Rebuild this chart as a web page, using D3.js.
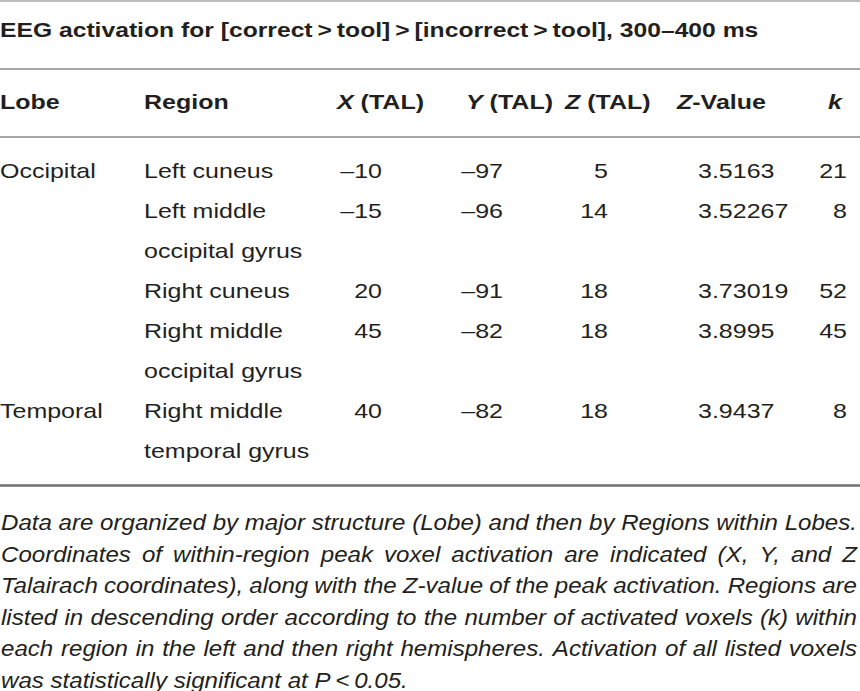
<!DOCTYPE html>
<html>
<head>
<meta charset="utf-8">
<script src="https://cdn.jsdelivr.net/npm/d3@7"></script>
<style>
  html, body { margin: 0; padding: 0; background: #fff; }
  svg { display: block; }
</style>
</head>
<body>
<svg id="chart" width="860" height="691"></svg>
<script>
// ---------- data ----------
const title = "EEG activation for [correct\u2009>\u2009tool]\u2009>\u2009[incorrect\u2009>\u2009tool], 300\u2013400 ms";
const headers = [
  [{t: "Lobe"}],
  [{t: "Region"}],
  [{t: "X", i: true}, {t: " (TAL)"}],
  [{t: "Y", i: true}, {t: " (TAL)"}],
  [{t: "Z", i: true}, {t: " (TAL)"}],
  [{t: "Z", i: true}, {t: "-Value"}],
  [{t: "k", i: true}]
];
const lobes   = ["Occipital", "", "", "", "Temporal"];
const regions = [["Left cuneus"], ["Left middle", "occipital gyrus"], ["Right cuneus"],
                 ["Right middle", "occipital gyrus"], ["Right middle", "temporal gyrus"]];
const xTal    = [-10, -15, 20, 45, 40];
const yTal    = [-97, -96, -91, -82, -82];
const zTal    = [5, 14, 18, 18, 18];
const zValue  = ["3.5163", "3.52267", "3.73019", "3.8995", "3.9437"];
const kVals   = [21, 8, 52, 45, 8];
const footLines = [
  "Data are organized by major structure (Lobe) and then by Regions within Lobes.",
  "Coordinates of within-region peak voxel activation are indicated (X, Y, and Z",
  "Talairach coordinates), along with the Z-value of the peak activation. Regions are",
  "listed in descending order according to the number of activated voxels (k) within",
  "each region in the left and then right hemispheres. Activation of all listed voxels",
  "was statistically significant at P\u2009<\u20090.05."
];

// ---------- layout ----------
const W = 860;
const svg = d3.select("#chart");
const FONT = "'Liberation Sans', Arial, Helvetica, sans-serif";
const TXT = "#231f20";
const SX = 1.19;   // horizontal stretch of the reference typeface
const fmt = v => (v < 0 ? "\u2013" + Math.abs(v) : String(v));

const cols = [
  {hx: 0,   ha: "start", vx: 0,   va: "start"},
  {hx: 144, ha: "start", vx: 144, va: "start"},
  {hx: 337, ha: "start", vx: 382, va: "end"},
  {hx: 466, ha: "start", vx: 503, va: "end"},
  {hx: 565, ha: "start", vx: 608, va: "end"},
  {hx: 677, ha: "start", vx: 698, va: "start"},
  {hx: 842, ha: "end",   vx: 847, va: "end"}
];

const lineY = d3.scaleLinear().domain([0, 1]).range([178, 218]);

const rules = [
  {y: 1,   c: "#a6a6a6", w: 1.5},
  {y: 69,  c: "#a6a6a6", w: 2},
  {y: 137, c: "#a6a6a6", w: 2},
  {y: 485.5, c: "#707070", w: 2.5}
];
svg.selectAll("line.rule").data(rules).join("line")
  .attr("class", "rule")
  .attr("x1", 0).attr("x2", W)
  .attr("y1", d => d.y).attr("y2", d => d.y)
  .attr("stroke", d => d.c).attr("stroke-width", d => d.w);

function stretchedText(parent, x, y, anchor, opts) {
  const g = parent.append("g").attr("transform", `translate(${x},${y}) scale(${opts.sx || SX},1)`);
  return g.append("text")
    .attr("x", 0).attr("y", 0)
    .attr("text-anchor", anchor)
    .attr("font-family", FONT)
    .attr("font-size", opts.size || 21)
    .attr("font-weight", opts.weight || "normal")
    .attr("fill", TXT);
}

// title
stretchedText(svg, 0, 37, "start", {weight: "bold", size: 21, sx: 1.175}).text(title);

// header
headers.forEach((parts, ci) => {
  const c = cols[ci];
  const t = stretchedText(svg, c.hx, 109, c.ha, {weight: "bold", size: 21});
  parts.forEach(p => {
    t.append("tspan").attr("font-style", p.i ? "italic" : "normal").text(p.t);
  });
});

// body
let line = 0;
const rowStart = [];
regions.forEach(r => { rowStart.push(line); line += r.length; });

const body = svg.append("g");
lobes.forEach((lb, i) => {
  const y0 = lineY(rowStart[i]);
  if (lb) stretchedText(body, cols[0].vx, y0, cols[0].va, {}).text(lb);
  regions[i].forEach((rl, j) => {
    stretchedText(body, cols[1].vx, lineY(rowStart[i] + j), cols[1].va, {}).text(rl);
  });
  const vals = [fmt(xTal[i]), fmt(yTal[i]), fmt(zTal[i]), zValue[i], String(kVals[i])];
  vals.forEach((v, k) => {
    const c = cols[k + 2];
    stretchedText(body, c.vx, y0, c.va, {}).text(v);
  });
});

// footnote (justified)
const footY = d3.scaleLinear().domain([0, 1]).range([530, 561.5]);
const FW = 856;
const FS = 22.5;
const foot = svg.append("g");
const meas = svg.append("text").attr("font-family", FONT).attr("font-size", FS)
  .attr("font-style", "italic").attr("x", -2000).attr("y", -100);
function width(s) { meas.text(s); return meas.node().getComputedTextLength(); }
const fsx = FW / width(footLines[0]);
const spaceW = width("a a") - width("aa");

footLines.forEach((ln, li) => {
  const g = foot.append("g").attr("transform", `translate(1,${footY(li)}) scale(${fsx},1)`);
  const words = ln.split(" ");
  const ws = words.map(width);
  const sum = d3.sum(ws);
  const last = li === footLines.length - 1;
  const gap = last || words.length < 2 ? spaceW : (FW / fsx - sum) / (words.length - 1);
  let x = 0;
  words.forEach((w, k) => {
    g.append("text").attr("x", x).attr("y", 0)
      .attr("font-family", FONT).attr("font-size", FS).attr("font-style", "italic")
      .attr("fill", TXT).text(w);
    x += ws[k] + gap;
  });
});
meas.remove();
</script>
</body>
</html>
